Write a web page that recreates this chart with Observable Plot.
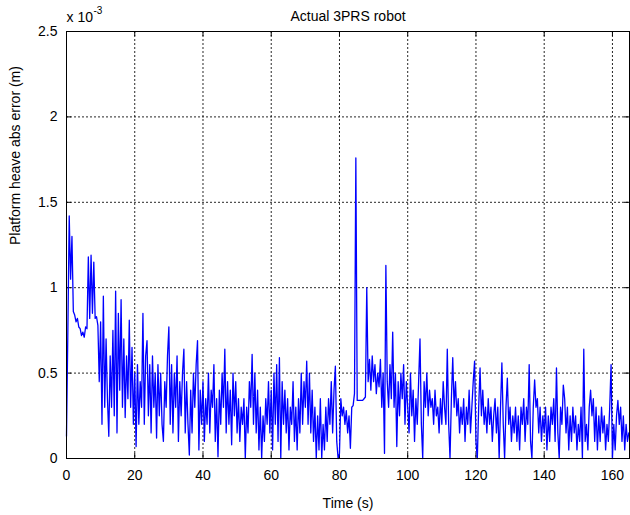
<!DOCTYPE html>
<html>
<head>
<meta charset="utf-8">
<script src="https://cdn.jsdelivr.net/npm/d3@7"></script>
<script src="https://cdn.jsdelivr.net/npm/@observablehq/plot@0.6"></script>
<style>
  html, body { margin: 0; padding: 0; background: #fff; }
</style>
</head>
<body>
<div id="chart"></div>
<script>
// Sampling grid of the trace (seconds)
const t0 = 0;
const dt = 0.4;
// Platform heave abs error, in units of 1e-3 m, one value every 0.4 s
const errorValues = [
  0.13, 0.75, 1.42, 1.05, 1.30, 0.86, 0.84, 0.80, 0.82, 0.77,   // 0-4 s
  0.76, 0.72, 0.74, 0.71, 0.77, 0.76, 1.18, 0.82, 1.19, 0.85,   // 4-8
  1.15, 0.82, 0.83, 0.78, 0.45, 0.80, 0.20, 0.95, 0.30, 0.70,   // 8-12
  0.35, 0.13, 0.60, 0.30, 0.75, 0.25, 0.98, 0.15, 0.85, 0.40,   // 12-16
  0.93, 0.30, 0.70, 0.24, 0.60, 0.35, 0.81, 0.30, 0.65, 0.20,   // 16-20
  0.50, 0.07, 0.55, 0.20, 0.45, 0.30, 0.85, 0.20, 0.60, 0.69,   // 20-24
  0.25, 0.55, 0.15, 0.60, 0.30, 0.50, 0.12, 0.55, 0.25, 0.50,   // 24-28
  0.20, 0.10, 0.45, 0.30, 0.60, 0.77, 0.20, 0.55, 0.15, 0.50,   // 28-32
  0.30, 0.60, 0.10, 0.45, 0.25, 0.50, 0.64, 0.15, 0.45, 0.20,   // 32-36
  0.02, 0.40, 0.15, 0.50, 0.30, 0.55, 0.69, 0.05, 0.40, 0.20,   // 36-40
  0.45, 0.10, 0.35, 0.20, 0.50, 0.15, 0.40, 0.30, 0.55, 0.10,   // 40-44
  0.35, 0.01, 0.40, 0.20, 0.50, 0.30, 0.64, 0.15, 0.45, 0.20,   // 44-48
  0.40, 0.08, 0.50, 0.25, 0.45, 0.15, 0.35, 0.10, 0.30, 0.20,   // 48-52
  0.35, 0.00, 0.30, 0.15, 0.45, 0.30, 0.61, 0.20, 0.50, 0.15,   // 52-56
  0.40, 0.05, 0.30, 0.00, 0.25, 0.10, 0.35, 0.20, 0.45, 0.15,   // 56-60
  0.40, 0.05, 0.50, 0.20, 0.55, 0.10, 0.59, 0.00, 0.45, 0.20,   // 60-64
  0.40, 0.15, 0.35, 0.05, 0.30, 0.20, 0.45, 0.10, 0.30, 0.05,   // 64-68
  0.35, 0.15, 0.50, 0.20, 0.45, 0.30, 0.57, 0.20, 0.50, 0.15,   // 68-72
  0.40, 0.10, 0.30, 0.00, 0.25, 0.05, 0.35, 0.00, 0.20, 0.05,   // 72-76
  0.30, 0.10, 0.35, 0.20, 0.45, 0.15, 0.40, 0.54, 0.10, 0.00,   // 76-80
  0.03, 0.35, 0.25, 0.30, 0.20, 0.28, 0.15, 0.25, 0.06, 0.30,   // 80-84
  0.31, 0.38, 1.76, 0.34, 0.34, 0.34, 0.34, 0.34, 0.35, 0.36,   // 84-88
  1.00, 0.45, 0.58, 0.40, 0.60, 0.45, 0.55, 0.38, 0.50, 0.42,   // 88-92
  0.58, 0.30, 0.50, 0.03, 1.13, 0.45, 0.30, 0.55, 0.35, 0.74,   // 92-96
  0.30, 0.50, 0.07, 0.45, 0.25, 0.50, 0.35, 0.55, 0.20, 0.45,   // 96-100
  0.30, 0.15, 0.50, 0.25, 0.40, 0.10, 0.35, 0.20, 0.45, 0.70,   // 100-104
  0.20, 0.00, 0.45, 0.30, 0.50, 0.25, 0.40, 0.30, 0.35, 0.20,   // 104-108
  0.40, 0.25, 0.30, 0.15, 0.35, 0.20, 0.45, 0.30, 0.20, 0.64,   // 108-112
  0.20, 0.00, 0.35, 0.59, 0.30, 0.45, 0.25, 0.35, 0.15, 0.30,   // 112-116
  0.20, 0.35, 0.10, 0.30, 0.20, 0.40, 0.15, 0.30, 0.45, 0.57,   // 116-120
  0.10, 0.00, 0.30, 0.53, 0.25, 0.40, 0.20, 0.30, 0.15, 0.35,   // 120-124
  0.20, 0.30, 0.10, 0.25, 0.35, 0.15, 0.30, 0.00, 0.30, 0.56,   // 124-128
  0.20, 0.00, 0.30, 0.47, 0.20, 0.30, 0.10, 0.25, 0.15, 0.30,   // 128-132
  0.10, 0.25, 0.05, 0.30, 0.20, 0.35, 0.10, 0.30, 0.20, 0.55,   // 132-136
  0.10, 0.00, 0.30, 0.46, 0.30, 0.35, 0.15, 0.30, 0.10, 0.25,   // 136-140
  0.15, 0.30, 0.05, 0.25, 0.10, 0.30, 0.20, 0.35, 0.10, 0.53,   // 140-144
  0.15, 0.00, 0.30, 0.20, 0.43, 0.35, 0.15, 0.30, 0.05, 0.25,   // 144-148
  0.10, 0.30, 0.15, 0.25, 0.05, 0.20, 0.10, 0.30, 0.00, 0.64,   // 148-152
  0.10, 0.20, 0.05, 0.30, 0.40, 0.25, 0.35, 0.10, 0.30, 0.05,   // 152-156
  0.25, 0.10, 0.30, 0.15, 0.25, 0.05, 0.20, 0.10, 0.30, 0.55,   // 156-160
  0.00, 0.20, 0.05, 0.25, 0.34, 0.20, 0.30, 0.10, 0.25, 0.05,   // 160-164
  0.20, 0.10, 0.15                                              // 164-164.8
];

const xTicks = [0, 20, 40, 60, 80, 100, 120, 140, 160];
const yTicks = [0, 0.5, 1, 1.5, 2, 2.5];
const xGrid = [20, 40, 60, 80, 100, 120, 140, 160];
const yGrid = [0.5, 1, 1.5, 2];
const titleText = "Actual 3PRS robot";
const xLabel = "Time (s)";
const yLabel = "Platform heave abs error (m)";
const exponentBase = "x 10";
const exponentPower = "-3";

const series = errorValues.map((v, i) => ({ t: +(t0 + i * dt).toFixed(1), v }));

const font = "'Liberation Sans', Arial, Helvetica, sans-serif";

const chart = Plot.plot({
  width: 630,
  height: 515,
  marginLeft: 66,
  marginRight: 1,
  marginTop: 31,
  marginBottom: 57,
  style: { fontFamily: font, fontSize: "14px", background: "#fff", color: "#000" },
  x: { domain: [0, 165] },
  y: { domain: [0, 2.5] },
  marks: [
    // dotted grid
    Plot.ruleX(xGrid, { stroke: "#000", strokeOpacity: 0.85, strokeDasharray: "2,2", strokeWidth: 1 }),
    Plot.ruleY(yGrid, { stroke: "#000", strokeOpacity: 0.85, strokeDasharray: "2,2", strokeWidth: 1 }),
    // inward ticks (bottom, top, left, right)
    Plot.ruleX(xTicks, { stroke: "#000", insetTop: 422 }),
    Plot.ruleX(xTicks, { stroke: "#000", insetBottom: 422 }),
    Plot.ruleY(yTicks, { stroke: "#000", insetRight: 558 }),
    Plot.ruleY(yTicks, { stroke: "#000", insetLeft: 558 }),
    // the trace
    Plot.line(series, { x: "t", y: "v", stroke: "#0000ff", strokeWidth: 1.3 }),
    Plot.frame({ stroke: "#000", strokeWidth: 1 }),
    // axes
    Plot.axisX(xTicks, { tickSize: 0, tickPadding: 12, fontSize: 14, label: null, tickFormat: (d) => String(d) }),
    Plot.axisY(yTicks, { tickSize: 0, tickPadding: 9, fontSize: 14, label: null, tickFormat: (d) => String(d) }),
    // texts
    Plot.text([titleText], { frameAnchor: "top", dy: -11, lineAnchor: "bottom", fontSize: 14 }),
    Plot.text([xLabel], { frameAnchor: "bottom", dy: 49, lineAnchor: "bottom", fontSize: 14 }),
    Plot.text([yLabel], { frameAnchor: "left", dx: -51, rotate: -90, fontSize: 14 }),
    Plot.text([exponentBase], { frameAnchor: "top-left", dx: 0, dy: -10, textAnchor: "start", lineAnchor: "bottom", fontSize: 14 }),
    Plot.text([exponentPower], { frameAnchor: "top-left", dx: 27, dy: -18, textAnchor: "start", lineAnchor: "bottom", fontSize: 10 })
  ]
});

document.getElementById("chart").appendChild(chart);
</script>
</body>
</html>
